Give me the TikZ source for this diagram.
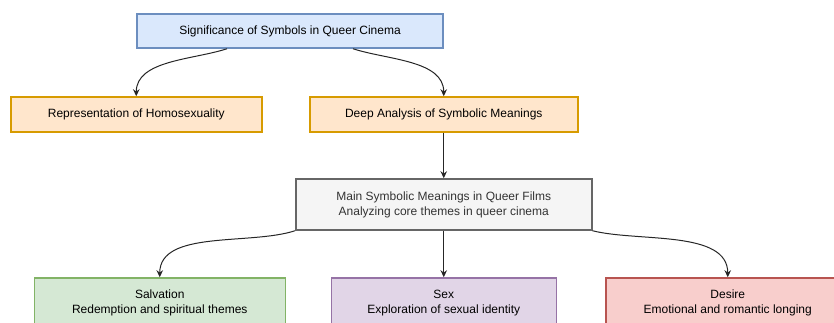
\documentclass[tikz,border=0pt]{standalone}
\usepackage{fontspec}
\setmainfont{Liberation Sans}
\usetikzlibrary{trees, arrows.meta, positioning}

\definecolor{blueFill}{HTML}{DAE8FC}
\definecolor{blueLine}{HTML}{6C8EBF}
\definecolor{orangeFill}{HTML}{FFE6CC}
\definecolor{orangeLine}{HTML}{D79B00}
\definecolor{grayFill}{HTML}{F5F5F5}
\definecolor{grayLine}{HTML}{666666}
\definecolor{grayText}{HTML}{333333}
\definecolor{greenFill}{HTML}{D5E8D4}
\definecolor{greenLine}{HTML}{82B366}
\definecolor{purpleFill}{HTML}{E1D5E7}
\definecolor{purpleLine}{HTML}{9673A6}
\definecolor{redFill}{HTML}{F8CECC}
\definecolor{redLine}{HTML}{B85450}

\begin{document}
\begin{tikzpicture}[
  x=1pt, y=1pt,
  level 1/.style={level distance=83.5pt, sibling distance=307.5pt},
  level 2/.style={level distance=90pt},
  level 3/.style={level distance=98.5pt, sibling distance=284pt},
  edge from parent/.style={draw=none},
  box/.style={draw, rectangle, inner sep=0pt, line width=1.5pt, align=center,
    font=\fontsize{12}{15}\selectfont},
  topic/.style={box, fill=blueFill, draw=blueLine, minimum width=306pt, minimum height=34pt},
  branch/.style={box, fill=orangeFill, draw=orangeLine, minimum width=#1, minimum height=35pt},
  core/.style={box, fill=grayFill, draw=grayLine, text=grayText, minimum width=296pt, minimum height=51pt},
  theme/.style 2 args={box, fill=#1Fill, draw=#1Line, minimum width=#2, minimum height=50pt},
  link/.style={->, >={Stealth[length=7pt, width=6.5pt]}, line width=1pt, color=black!85}]

  \useasboundingbox (0,0) rectangle (834,-323);
  \clip (0,0) rectangle (834,-323);

  \node[topic] (root) at (290,-31) {Significance of Symbols in Queer Cinema}
	child {node[branch=251pt] (repr) {Representation of Homosexuality}}
	child {node[branch=268pt] (deep) {Deep Analysis of Symbolic Meanings}
		child {node[core] (main) {Main Symbolic Meanings in Queer Films\\Analyzing core themes in queer cinema}
			child {node[theme={green}{251pt}] (salv) {Salvation\\Redemption and spiritual themes}}
			child {node[theme={purple}{225pt}] (sex) {Sex\\Exploration of sexual identity}}
			child {node[theme={red}{244pt}] (desire) {Desire\\Emotional and romantic longing}}
		}
	};

  \path[link]
    ([xshift=-63pt]root.south) edge[out=198, in=90, looseness=0.9] (repr.north)
    ([xshift=63pt]root.south) edge[out=-18, in=90, looseness=0.9] (deep.north)
    (deep.south) edge (main.north)
    (main.south west) edge[out=198, in=90, looseness=0.85] (salv.north)
    (main.south) edge (sex.north)
    (main.south east) edge[out=-14, in=90, looseness=0.85] (desire.north);
\end{tikzpicture}
\end{document}
